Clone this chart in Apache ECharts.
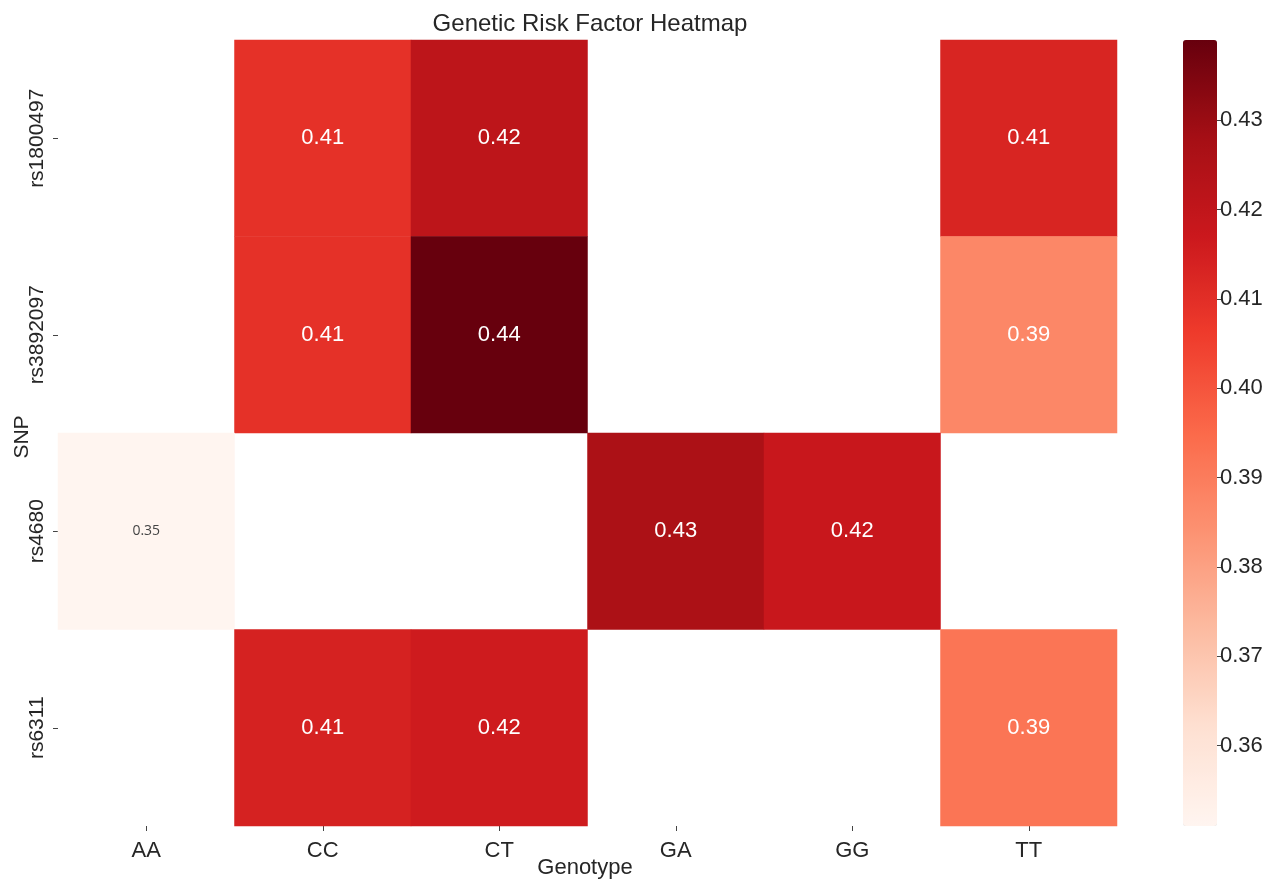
<!DOCTYPE html>
<html>
<head>
<meta charset="utf-8">
<title>Genetic Risk Factor Heatmap</title>
<script src="https://cdn.jsdelivr.net/npm/echarts@6/dist/echarts.min.js"></script>
<style>
  html, body { margin: 0; padding: 0; background: #fff; }
  #chart { width: 1279px; height: 881px; }
</style>
</head>
<body>
<div id="chart"></div>
<script>
// categories
const genotypes = ['AA', 'CC', 'CT', 'GA', 'GG', 'TT']
const snps = ['rs1800497', 'rs3892097', 'rs4680', 'rs6311']

// risk values per SNP, in genotype order (null = no cell)
const rs1800497 = [null, 0.409, 0.421, null, null, 0.413]
const rs3892097 = [null, 0.409, 0.439, null, null, 0.387]
const rs4680 = [0.351, null, null, 0.426, 0.418, null]
const rs6311 = [null, 0.414, 0.416, null, null, 0.392]
const rows = [rs1800497, rs3892097, rs4680, rs6311]

// colorbar
const colorMin = 0.351
const colorMax = 0.439
const colorTicks = [0.36, 0.37, 0.38, 0.39, 0.40, 0.41, 0.42, 0.43]

// matplotlib "Reds"
const reds = ['#fff5f0', '#fee0d2', '#fcbba1', '#fc9272', '#fb6a4a', '#ef3b2c', '#cb181d', '#a50f15', '#67000d']

const font = 'Liberation Sans, Arial, sans-serif'
const textColor = '#262626'

const cells = []
rows.forEach(function(row, yi) {
  row.forEach(function(v, xi) {
    if (v === null) return
    const item = { value: [xi, yi, v] }
    // the palest cell gets its own small dark label
    if (v < 0.36) {
      item.label = { color: '#444', fontSize: 14, fontFamily: 'Open Sans, sans-serif' }
    }
    cells.push(item)
  })
})

const chart = echarts.init(document.getElementById('chart'))
chart.setOption({
  backgroundColor: '#fff',
  animation: false,
  title: {
    text: 'Genetic Risk Factor Heatmap',
    left: 585,
    textAlign: 'center',
    top: 7,
    textStyle: { fontFamily: font, fontSize: 24, fontWeight: 'normal', color: textColor }
  },
  // axis titles (placed by hand, v6 pushes axis names past the labels)
  graphic: [{
    type: 'text',
    x: 585,
    y: 868,
    style: { text: 'Genotype', font: '22px ' + font, fill: textColor, align: 'center', verticalAlign: 'middle' }
  }, {
    type: 'text',
    x: 22,
    y: 437,
    rotation: Math.PI / 2,
    style: { text: 'SNP', font: '21px ' + font, fill: textColor, align: 'center', verticalAlign: 'middle' }
  }],
  grid: [
    { left: 58, right: 162, top: 40, bottom: 55, outerBoundsMode: 'none', containLabel: false },
    { left: 1183, width: 34, top: 40, bottom: 55, outerBoundsMode: 'none', containLabel: false }
  ],
  xAxis: [{
    type: 'category',
    gridIndex: 0,
    data: genotypes,
    axisLine: { show: false },
    axisTick: { show: true, alignWithLabel: true, length: 5, lineStyle: { color: '#444' } },
    axisLabel: { fontFamily: font, fontSize: 22, color: textColor, margin: 14 },
    splitLine: { show: false }
  }, {
    type: 'category',
    gridIndex: 1,
    data: [''],
    show: false
  }],
  yAxis: [{
    type: 'category',
    gridIndex: 0,
    data: snps,
    inverse: true,
    axisLine: { show: false },
    axisTick: { show: true, alignWithLabel: true, length: 5, lineStyle: { color: '#444' } },
    axisLabel: { fontFamily: font, fontSize: 21, color: textColor, rotate: 90, margin: 10 },
    splitLine: { show: false }
  }, {
    type: 'value',
    gridIndex: 1,
    position: 'right',
    min: colorMin,
    max: colorMax,
    axisLine: { show: false },
    axisTick: { show: true, length: 5, customValues: colorTicks, lineStyle: { color: '#444' } },
    axisLabel: {
      fontFamily: font, fontSize: 22, color: textColor, margin: 3,
      customValues: colorTicks,
      formatter: function(v) { return v.toFixed(2) }
    },
    splitLine: { show: false }
  }],
  visualMap: {
    type: 'continuous',
    min: colorMin,
    max: colorMax,
    dimension: 2,
    seriesIndex: 0,
    orient: 'vertical',
    left: 1168,
    top: 25,
    itemWidth: 34,
    itemHeight: 786,
    calculable: false,
    hoverLink: false,
    inRange: { color: reds }
  },
  series: [{
    type: 'heatmap',
    xAxisIndex: 0,
    yAxisIndex: 0,
    data: cells,
    itemStyle: { borderWidth: 0 },
    label: {
      show: true,
      fontFamily: font,
      fontSize: 22,
      color: '#fff',
      formatter: function(p) { return p.value[2].toFixed(2) }
    },
    emphasis: { disabled: true }
  }]
})
</script>
</body>
</html>
